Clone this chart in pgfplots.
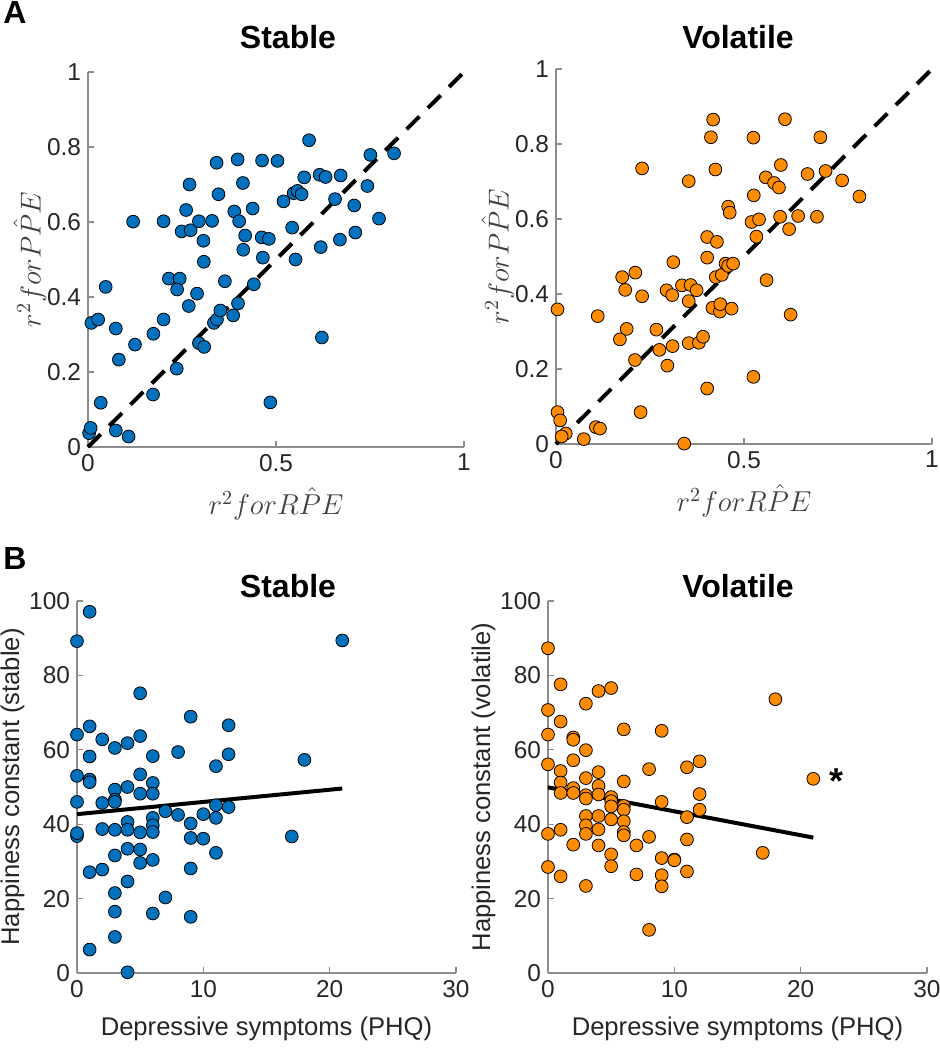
\documentclass[border=0pt]{standalone}
\usepackage{fontspec}
\setmainfont{Liberation Sans}
\usepackage{pgfplots}
\pgfplotsset{compat=1.18}

\definecolor{mblue}{HTML}{0072BD}
\definecolor{morange}{HTML}{FF8C00}
\definecolor{tickc}{HTML}{262626}
\definecolor{axc}{HTML}{8C8C8C}
\definecolor{labc}{HTML}{404040}

\pgfplotsset{
  mlab/.style={
    scale only axis,
    axis lines=left,
    axis line style={-, draw=axc, line width=0.6pt},
    tick align=inside,
    major tick length=3pt,
    tick style={draw=axc, line width=0.6pt},
    ticklabel style={font=\fontsize{12.2}{14}\selectfont, text=tickc},
    /pgf/number format/assume math mode=true,
    clip=false,
  },
  panelA/.style={
    mlab, width=188pt, height=187.5pt,
    xmin=0, xmax=1, ymin=0, ymax=1,
    xtick={0,0.5,1}, ytick={0,0.2,0.4,0.6,0.8,1},
    xlabel={$r^2 for R\hat{P}E$},
    ylabel={$r^2 for P\hat{P}E$},
    label style={font=\fontsize{13.6}{16}\selectfont, text=labc, inner sep=0pt},
    xlabel style={at={(axis description cs:0.5,-0.152)}, anchor=center},
    ylabel style={at={(axis description cs:-0.155,0.5)}, anchor=center, rotate=0},
  },
  panelB/.style={
    mlab, width=189.5pt, height=186pt,
    xmin=0, xmax=30, ymin=0, ymax=100,
    xtick={0,10,20,30}, ytick={0,20,40,60,80,100},
    xlabel={Depressive symptoms (PHQ)},
    label style={font=\fontsize{12.8}{15}\selectfont, text=tickc, inner sep=0pt},
    xlabel style={at={(axis description cs:0.5,-0.149)}, anchor=center},
    ylabel style={at={(axis description cs:-0.17,0.5)}, anchor=center},
  },
  dots/.style={only marks, mark=*, mark size=3.2pt,
    mark options={draw=black, line width=0.4pt, fill=#1}},
}

\begin{document}
\begin{tikzpicture}
\useasboundingbox (0,0) rectangle (469.5pt,-525pt);

\node[font=\fontsize{16}{18}\selectfont\bfseries] at (7.5pt,-6pt) {A};
\node[font=\fontsize{16}{18}\selectfont\bfseries] at (7.5pt,-279pt) {B};
\node[font=\fontsize{16}{18}\selectfont\bfseries] at (144pt,-18.5pt) {Stable};
\node[font=\fontsize{16}{18}\selectfont\bfseries] at (369pt,-18.5pt) {Volatile};
\node[font=\fontsize{16}{18}\selectfont\bfseries] at (144pt,-293pt) {Stable};
\node[font=\fontsize{16}{18}\selectfont\bfseries] at (369pt,-293pt) {Volatile};

% A, stable
\begin{axis}[panelA, at={(44pt,-223.5pt)}, anchor=south west]
\addplot[dots=mblue] coordinates {
(0.003,0.037) (0.007,0.051) (0.034,0.118) (0.009,0.331) (0.027,0.340)
(0.047,0.427) (0.074,0.316) (0.082,0.233) (0.074,0.044) (0.108,0.028)
(0.120,0.601) (0.125,0.273) (0.173,0.140) (0.174,0.302) (0.201,0.340)
(0.201,0.602) (0.215,0.449) (0.244,0.449) (0.237,0.420) (0.236,0.209)
(0.261,0.632) (0.270,0.700) (0.249,0.575) (0.273,0.578) (0.268,0.376)
(0.290,0.409) (0.295,0.277) (0.309,0.267) (0.295,0.602) (0.307,0.550)
(0.308,0.494) (0.330,0.603) (0.335,0.331) (0.343,0.340) (0.342,0.758)
(0.347,0.674) (0.352,0.364) (0.364,0.442) (0.386,0.351) (0.389,0.628)
(0.398,0.767) (0.402,0.602) (0.399,0.383) (0.412,0.704) (0.418,0.564)
(0.413,0.526) (0.438,0.636) (0.441,0.434) (0.463,0.764) (0.462,0.559)
(0.465,0.505) (0.481,0.555) (0.485,0.119) (0.504,0.763) (0.520,0.655)
(0.543,0.585) (0.552,0.500) (0.547,0.677) (0.557,0.683) (0.568,0.674)
(0.575,0.719) (0.588,0.818) (0.616,0.726) (0.632,0.720) (0.619,0.533)
(0.622,0.292) (0.657,0.661) (0.670,0.553) (0.672,0.724) (0.708,0.644)
(0.711,0.572) (0.743,0.696) (0.751,0.779) (0.774,0.609) (0.814,0.783)
};
\addplot[black, line width=2pt, dash pattern=on 9pt off 6pt] coordinates {(0,0) (1,1)};
\end{axis}

% A, volatile
\begin{axis}[panelA, at={(278pt,-222pt)}, anchor=south west]
\addplot[dots=morange] coordinates {
(0.004,0.359) (0.004,0.085) (0.011,0.063) (0.026,0.028) (0.015,0.020)
(0.074,0.013) (0.106,0.045) (0.117,0.041) (0.111,0.341) (0.170,0.279)
(0.176,0.445) (0.184,0.411) (0.188,0.307) (0.210,0.224) (0.211,0.457)
(0.229,0.735) (0.229,0.394) (0.225,0.085) (0.267,0.305) (0.275,0.251)
(0.296,0.209) (0.294,0.410) (0.309,0.397) (0.312,0.485) (0.310,0.261)
(0.335,0.423) (0.341,0.001) (0.353,0.701) (0.358,0.424) (0.353,0.381)
(0.353,0.269) (0.374,0.410) (0.380,0.270) (0.391,0.286) (0.402,0.497)
(0.402,0.552) (0.402,0.148) (0.412,0.818) (0.418,0.865) (0.424,0.732)
(0.428,0.539) (0.425,0.445) (0.416,0.363) (0.436,0.353) (0.437,0.373)
(0.441,0.451) (0.451,0.481) (0.458,0.633) (0.462,0.617) (0.458,0.475)
(0.471,0.481) (0.467,0.361) (0.520,0.592) (0.525,0.817) (0.526,0.663)
(0.533,0.553) (0.540,0.599) (0.525,0.179) (0.558,0.711) (0.560,0.437)
(0.580,0.696) (0.593,0.684) (0.598,0.744) (0.596,0.606) (0.609,0.866)
(0.620,0.573) (0.624,0.345) (0.644,0.608) (0.669,0.720) (0.694,0.606)
(0.703,0.818) (0.717,0.728) (0.761,0.703) (0.807,0.660)
};
\addplot[black, line width=2pt, dash pattern=on 9pt off 6pt] coordinates {(0,0) (1,1)};
\end{axis}

% B, stable
\begin{axis}[panelB, at={(38.5pt,-486.5pt)}, anchor=south west,
  ylabel={Happiness constant (stable)}]
\addplot[dots=mblue] coordinates {
(0,89.2) (0,64.1) (0,53.0) (0,46.0) (0,36.8) (0,37.6)
(1,97.1) (1,66.3) (1,58.2) (1,52.0) (1,51.3) (1,27.1) (1,6.3)
(2,62.8) (2,45.7) (2,38.7) (2,27.8)
(3,60.5) (3,49.3) (3,46.6) (3,46.0) (3,38.5) (3,31.6) (3,21.5) (3,16.5) (3,9.7)
(4,61.8) (4,50.0) (4,40.6) (4,38.5) (4,33.4) (4,24.6) (4,0.2)
(5,75.2) (5,63.7) (5,53.4) (5,48.2) (5,37.8) (5,33.2) (5,29.6)
(6,58.3) (6,51.1) (6,48.2) (6,41.7) (6,39.7) (6,37.9) (6,30.4) (6,16.0)
(7,43.5) (7,20.3)
(8,59.4) (8,42.5)
(9,68.9) (9,40.2) (9,36.3) (9,28.1) (9,15.1)
(10,42.7) (10,36.1)
(11,55.6) (11,45.1) (11,41.7) (11,32.3)
(12,66.6) (12,58.8) (12,44.6)
(17,36.7) (18,57.3) (21,89.4)
};
\addplot[black, line width=2pt] coordinates {(0,42.7) (21,49.6)};
\end{axis}

% B, volatile
\begin{axis}[panelB, at={(274pt,-486.5pt)}, anchor=south west,
  ylabel={Happiness constant (volatile)}]
\addplot[dots=morange] coordinates {
(0,87.3) (0,70.7) (0,64.1) (0,56.1) (0,37.4) (0,28.5)
(1,77.6) (1,67.6) (1,54.3) (1,51.2) (1,48.4) (1,38.5) (1,26.0)
(2,63.3) (2,62.7) (2,57.2) (2,49.7) (2,48.4) (2,34.5)
(3,72.4) (3,59.9) (3,52.4) (3,47.8) (3,46.9) (3,42.2) (3,39.7) (3,37.4) (3,23.4)
(4,75.8) (4,54.0) (4,50.3) (4,48.0) (4,42.2) (4,38.6) (4,34.3)
(5,76.6) (5,47.3) (5,46.2) (5,44.8) (5,41.3) (5,31.9) (5,28.7)
(6,65.5) (6,51.5) (6,44.9) (6,43.9) (6,40.8) (6,37.9) (6,37.0)
(7,34.3) (7,26.5)
(8,54.8) (8,36.6) (8,11.6)
(9,65.1) (9,46.0) (9,30.9) (9,26.3) (9,23.3)
(10,30.5) (10,30.3)
(11,55.3) (11,41.9) (11,35.9) (11,27.3)
(12,56.9) (12,48.1) (12,43.9)
(17,32.3) (18,73.6) (21,52.2)
};
\addplot[black, line width=2pt] coordinates {(0,49.9) (21,36.4)};
\node[font=\fontsize{18}{20}\selectfont\bfseries] at (axis cs:22.8,51.5) {*};
\end{axis}
\end{tikzpicture}
\end{document}
